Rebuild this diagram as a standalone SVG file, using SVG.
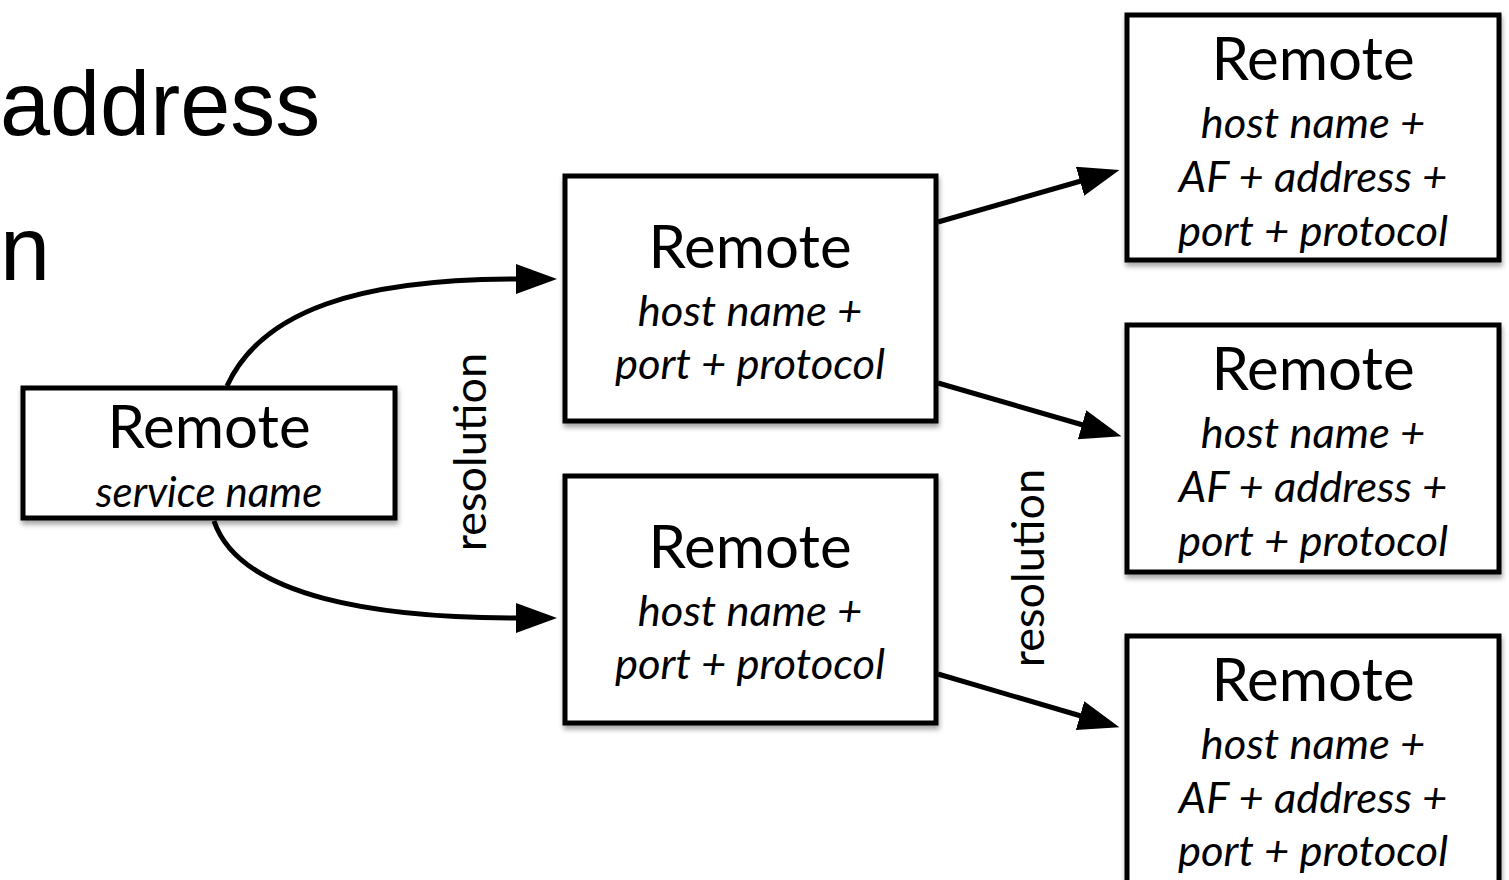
<svg xmlns="http://www.w3.org/2000/svg" width="1509" height="880" viewBox="0 0 1509 880">
  <style>
    .box { fill: #ffffff; stroke: #000000; stroke-width: 5; filter: url(#shadow); }
    .title { font-family: "Lato", "Open Sans", sans-serif; font-size: 60px; fill: #000; text-anchor: middle; }
    .sub { font-family: "Lato", "Open Sans", sans-serif; font-style: italic; font-size: 43.5px; fill: #000; text-anchor: middle; }
    .heading { font-family: "Liberation Sans", Arial, sans-serif; font-size: 90px; fill: #000; }
    .vlabel { font-family: "Lato", "Open Sans", sans-serif; font-size: 45px; fill: #000; text-anchor: middle; }
    .edge { fill: none; stroke: #000; stroke-width: 5; marker-end: url(#arrow); }
  </style>
  <defs>
    <filter id="shadow" x="-10%" y="-10%" width="125%" height="130%">
      <feDropShadow dx="1" dy="4" stdDeviation="2.5" flood-color="#000" flood-opacity="0.35"/>
    </filter>
    <marker id="arrow" markerUnits="userSpaceOnUse" markerWidth="42" markerHeight="32" refX="1" refY="15" orient="auto">
      <path d="M0,0 L41,15 L0,30 Z" fill="#000"/>
    </marker>
  </defs>

  <rect width="1509" height="880" fill="#ffffff"/>

  <!-- heading fragments at the left margin -->
  <text class="heading" x="0" y="135">address</text>
  <text class="heading" x="0" y="280">n</text>

  <!-- connectors -->
  <g id="connectors">
    <path class="edge" d="M227,386 C262,310 360,279 517,279"/>
    <path class="edge" d="M214,521 C240,598 380,618 517,618"/>
    <path class="edge" d="M938,222 L1081,181"/>
    <path class="edge" d="M938,383 L1083,425"/>
    <path class="edge" d="M938,674 L1081,716"/>
  </g>

  <!-- rotated labels -->
  <text class="vlabel" transform="translate(486,452) rotate(-90)">resolution</text>
  <text class="vlabel" transform="translate(1044,568) rotate(-90)">resolution</text>

  <!-- service name -->
  <g id="node-service">
    <rect class="box" x="23" y="388" width="372" height="130"/>
    <text class="title" x="209" y="448">Remote</text>
    <text class="sub" x="209" y="507" style="font-size:42px">service name</text>
  </g>

  <!-- host name + port + protocol -->
  <g id="node-host-1">
    <rect class="box" x="565" y="176" width="371" height="245"/>
    <text class="title" x="750" y="268">Remote</text>
    <text class="sub" x="750" y="326">host name +</text>
    <text class="sub" x="750" y="379">port + protocol</text>
  </g>
  <g id="node-host-2">
    <rect class="box" x="565" y="476" width="371" height="247"/>
    <text class="title" x="750" y="568">Remote</text>
    <text class="sub" x="750" y="626">host name +</text>
    <text class="sub" x="750" y="679">port + protocol</text>
  </g>

  <!-- resolved addresses -->
  <g id="node-addr-1">
    <rect class="box" x="1127" y="15" width="372" height="245"/>
    <text class="title" x="1313" y="80">Remote</text>
    <text class="sub" x="1313" y="138">host name +</text>
    <text class="sub" x="1313" y="192">AF + address +</text>
    <text class="sub" x="1313" y="246">port + protocol</text>
  </g>
  <g id="node-addr-2">
    <rect class="box" x="1127" y="325" width="372" height="247"/>
    <text class="title" x="1313" y="390">Remote</text>
    <text class="sub" x="1313" y="448">host name +</text>
    <text class="sub" x="1313" y="502">AF + address +</text>
    <text class="sub" x="1313" y="556">port + protocol</text>
  </g>
  <g id="node-addr-3">
    <rect class="box" x="1127" y="636" width="372" height="250"/>
    <text class="title" x="1313" y="701">Remote</text>
    <text class="sub" x="1313" y="759">host name +</text>
    <text class="sub" x="1313" y="813">AF + address +</text>
    <text class="sub" x="1313" y="866">port + protocol</text>
  </g>
</svg>
